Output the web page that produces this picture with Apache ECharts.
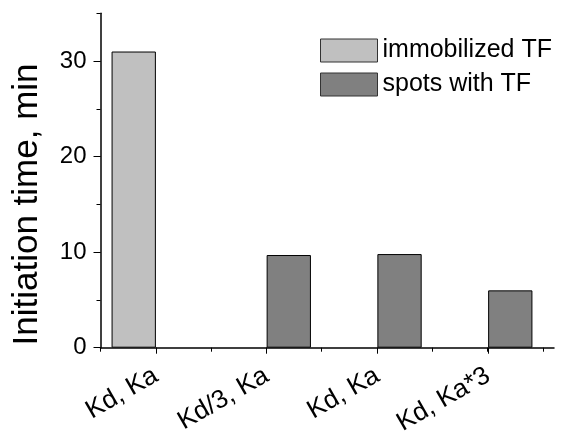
<!DOCTYPE html>
<html>
<head>
<meta charset="utf-8">
<script src="https://cdn.jsdelivr.net/npm/echarts@6/dist/echarts.min.js"></script>
<style>
  html, body { margin: 0; padding: 0; background: #fff; }
  #chart { width: 570px; height: 440px; }
</style>
</head>
<body>
<div id="chart"></div>
<script>
// data
const categories = ['Kd, Ka', 'Kd/3, Ka', 'Kd, Ka', 'Kd, Ka*3']
const immobilizedTF = [31.0, '-', '-', '-']
const spotsWithTF = ['-', 9.7, 9.8, 6.0]
const yMajorTicks = [0, 10, 20, 30]
const xHalfTicks = [0, 1, 2, 3, 4, 5, 6, 7, 8]

const FONT = 'Liberation Sans, Arial, sans-serif'
const black = '#000'

const chart = echarts.init(document.getElementById('chart'))

const option = {
  animation: false,
  backgroundColor: '#fff',
  textStyle: { fontFamily: FONT, color: black },
  grid: [
    // bars
    { left: 100.5, right: 26.5, top: 13.3, bottom: 92.3, containLabel: false },
    // decorative axes: long y ticks + half-category x ticks
    { left: 100.5, right: 16, top: 61.2, bottom: 92.3, containLabel: false }
  ],
  legend: {
    data: ['immobilized TF', 'spots with TF'],
    orient: 'vertical',
    left: 315,
    top: 33,
    icon: 'rect',
    itemWidth: 57,
    itemHeight: 23,
    itemGap: 9,
    textStyle: { fontSize: 25, fontFamily: FONT, color: black },
    itemStyle: { borderColor: '#333', borderWidth: 1 }
  },
  xAxis: [
    {
      type: 'category',
      gridIndex: 0,
      data: categories,
      axisLine: { show: false },
      axisTick: { show: true, alignWithLabel: true, length: 6, lineStyle: { color: black } },
      axisLabel: { rotate: 30, fontSize: 26, color: black, fontFamily: FONT, margin: 26, interval: 0 },
      splitLine: { show: false }
    },
    {
      type: 'value',
      gridIndex: 1,
      min: 0,
      max: 8.2,
      interval: 1,
      axisLine: { show: true, lineStyle: { color: black, width: 1.5 } },
      axisTick: { show: true, length: 4, customValues: xHalfTicks, lineStyle: { color: black } },
      axisLabel: { show: false },
      splitLine: { show: false }
    }
  ],
  yAxis: [
    {
      type: 'value',
      gridIndex: 0,
      min: 0,
      max: 35,
      interval: 5,
      axisLine: { show: true, lineStyle: { color: black, width: 1.5 } },
      axisTick: { show: true, length: 4, lineStyle: { color: black } },
      axisLabel: { show: false },
      splitLine: { show: false }
    },
    {
      type: 'value',
      gridIndex: 1,
      min: 0,
      max: 30,
      interval: 10,
      name: 'Initiation time, min',
      nameLocation: 'middle',
      nameGap: 56,
      nameTextStyle: { fontSize: 35, color: black, fontFamily: FONT },
      axisLine: { show: false },
      axisTick: { show: true, length: 7, customValues: yMajorTicks, lineStyle: { color: black } },
      axisLabel: { fontSize: 24, color: black, fontFamily: FONT, margin: 14 },
      splitLine: { show: false }
    }
  ],
  series: [
    {
      name: 'immobilized TF',
      type: 'bar',
      xAxisIndex: 0,
      yAxisIndex: 0,
      data: immobilizedTF,
      barGap: '0%',
      barCategoryGap: '20%',
      itemStyle: { color: '#c0c0c0', borderColor: black, borderWidth: 1 }
    },
    {
      name: 'spots with TF',
      type: 'bar',
      xAxisIndex: 0,
      yAxisIndex: 0,
      data: spotsWithTF,
      barGap: '0%',
      barCategoryGap: '20%',
      itemStyle: { color: '#808080', borderColor: black, borderWidth: 1 }
    }
  ]
}

chart.setOption(option)
</script>
</body>
</html>
